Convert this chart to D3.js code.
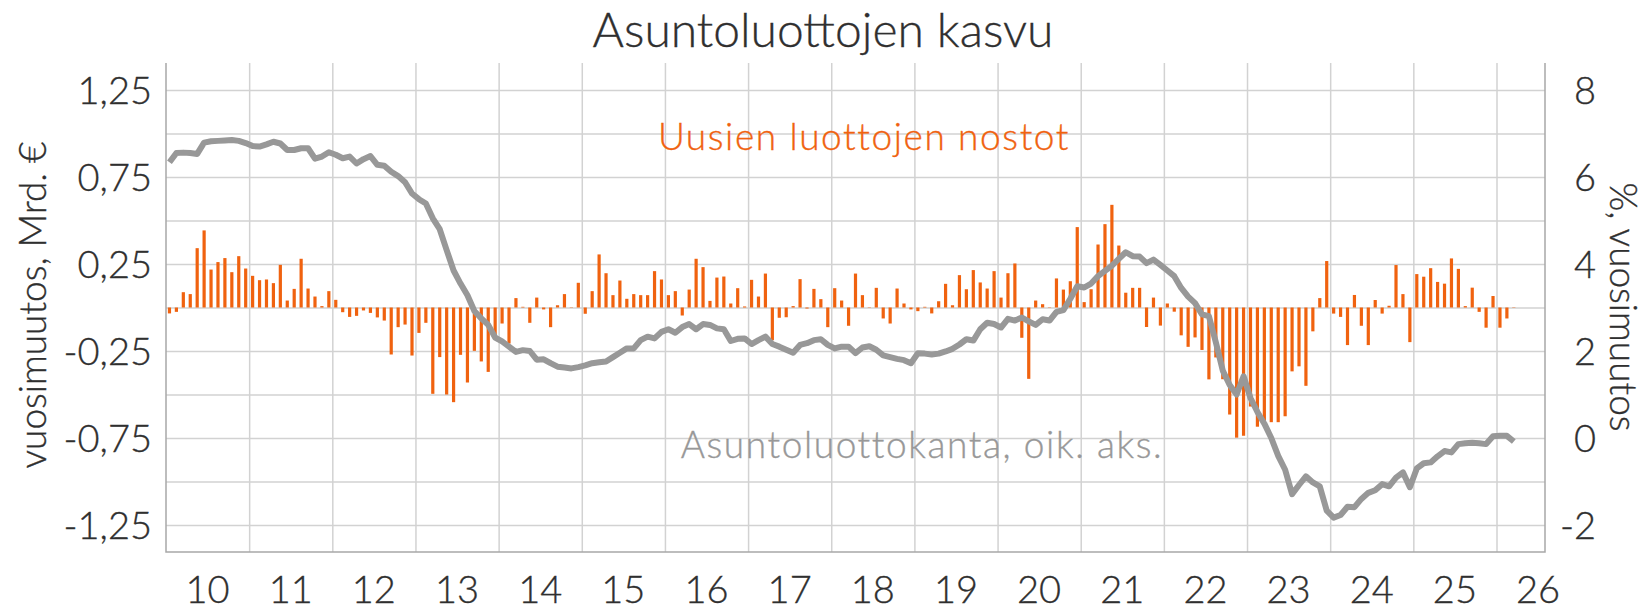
<!DOCTYPE html>
<html>
<head>
<meta charset="utf-8">
<script src="https://cdn.jsdelivr.net/npm/d3@7"></script>
<style>
  body { margin: 0; background: #fff; }
  svg text { font-family: Lato, "Open Sans", sans-serif; font-weight: 300; fill: #2f2f2f; stroke: #2f2f2f; stroke-width: 0.35px; }
</style>
</head>
<body>
<svg id="chart" width="1646" height="611"></svg>
<script>
// Kuukausittaiset arvot, tammikuu 2010 alkaen
const startYear = 2010;

// Uusien luottojen nostot, vuosimuutos (Mrd. €) – pylväät, vasen akseli
const drawdownChange = [
  -0.034, -0.025, 0.088, 0.077, 0.341, 0.443, 0.218, 0.261, 0.284, 0.203, 0.295, 0.224,
  0.182, 0.157, 0.161, 0.140, 0.245, 0.040, 0.107, 0.280, 0.109, 0.063, 0.008, 0.094,
  0.044, -0.027, -0.054, -0.048, -0.017, -0.031, -0.057, -0.075, -0.270, -0.113, -0.098, -0.276,
  -0.146, -0.088, -0.496, -0.285, -0.500, -0.544, -0.272, -0.431, -0.249, -0.310, -0.370, -0.169,
  -0.092, -0.207, 0.054, 0.004, -0.088, 0.057, -0.011, -0.113, 0.013, 0.077, 0.002, 0.142,
  -0.036, 0.094, 0.305, 0.197, 0.071, 0.155, 0.050, 0.077, 0.071, 0.071, 0.209, 0.161,
  0.071, 0.094, -0.046, 0.103, 0.280, 0.232, 0.038, 0.172, 0.178, 0.023, 0.111, 0.006,
  0.159, 0.063, 0.195, -0.188, -0.059, -0.056, 0.008, 0.163, -0.006, 0.107, 0.048, -0.113,
  0.111, 0.040, -0.105, 0.195, 0.071, 0.002, 0.113, -0.063, -0.092, 0.109, 0.023, -0.011,
  -0.021, 0.004, -0.034, 0.036, 0.136, 0.013, 0.186, 0.105, 0.215, 0.144, 0.109, 0.209,
  0.057, 0.197, 0.253, -0.174, -0.410, 0.040, 0.019, 0.002, 0.167, 0.103, 0.151, 0.462,
  0.031, 0.105, 0.362, 0.479, 0.590, 0.356, 0.085, 0.113, 0.113, -0.112, 0.057, -0.104,
  0.023, -0.024, -0.160, -0.226, -0.172, -0.244, -0.413, -0.287, -0.412, -0.615, -0.748, -0.737,
  -0.569, -0.685, -0.652, -0.659, -0.659, -0.625, -0.367, -0.338, -0.450, -0.137, 0.054, 0.267,
  -0.035, -0.054, -0.216, 0.072, -0.105, -0.216, 0.043, -0.035, 0.010, 0.244, 0.077, -0.199,
  0.192, 0.177, 0.226, 0.147, 0.137, 0.282, 0.222, 0.008, 0.114, -0.025, -0.116, 0.066,
  -0.116, -0.063, 0.002
];

// Asuntoluottokanta, vuosimuutos (%) – viiva, oikea akseli
const stockGrowth = [
  6.34, 6.55, 6.56, 6.55, 6.53, 6.79, 6.82, 6.83, 6.84, 6.85, 6.83, 6.78,
  6.71, 6.70, 6.75, 6.81, 6.77, 6.62, 6.62, 6.66, 6.66, 6.42, 6.47, 6.57,
  6.51, 6.43, 6.47, 6.31, 6.41, 6.48, 6.28, 6.26, 6.12, 6.02, 5.88, 5.62,
  5.49, 5.39, 5.05, 4.80, 4.32, 3.85, 3.55, 3.28, 2.92, 2.75, 2.60, 2.31,
  2.22, 2.10, 1.98, 2.02, 2.00, 1.80, 1.81, 1.72, 1.64, 1.62, 1.60, 1.63,
  1.67, 1.72, 1.74, 1.76, 1.86, 1.96, 2.06, 2.06, 2.25, 2.33, 2.29, 2.44,
  2.50, 2.42, 2.55, 2.62, 2.50, 2.62, 2.60, 2.52, 2.50, 2.23, 2.28, 2.29,
  2.16, 2.25, 2.33, 2.16, 2.10, 2.03, 1.96, 2.14, 2.18, 2.25, 2.27, 2.14,
  2.06, 2.10, 2.10, 1.95, 2.08, 2.11, 2.03, 1.90, 1.86, 1.82, 1.79, 1.72,
  1.95, 1.94, 1.92, 1.94, 1.99, 2.05, 2.15, 2.27, 2.24, 2.50, 2.65, 2.62,
  2.54, 2.74, 2.70, 2.77, 2.68, 2.60, 2.73, 2.70, 2.90, 2.94, 3.20, 3.49,
  3.46, 3.55, 3.72, 3.84, 3.96, 4.12, 4.27, 4.18, 4.17, 4.02, 4.10, 3.98,
  3.85, 3.72, 3.45, 3.25, 3.10, 2.84, 2.80, 2.20, 1.55, 1.22, 1.00, 1.42,
  0.92, 0.60, 0.33, 0.00, -0.41, -0.73, -1.29, -1.08, -0.88, -1.02, -1.11, -1.67,
  -1.83, -1.77, -1.58, -1.59, -1.40, -1.26, -1.20, -1.06, -1.11, -0.91, -0.79, -1.13,
  -0.70, -0.58, -0.56, -0.42, -0.30, -0.33, -0.14, -0.12, -0.11, -0.12, -0.14, 0.04,
  0.05, 0.05, -0.08
];

const leftTicks = [1.25, 0.75, 0.25, -0.25, -0.75, -1.25];
const gridTicks = [1.25, 1, 0.75, 0.5, 0.25, 0, -0.25, -0.5, -0.75, -1, -1.25];
const rightTicks = [8, 6, 4, 2, 0, -2];
const yearLabels = ["10", "11", "12", "13", "14", "15", "16", "17", "18", "19", "20", "21", "22", "23", "24", "25", "26"];

const svg = d3.select("#chart");
const plot = { left: 166, right: 1545, top: 63, bottom: 552 };

// x-akseli kuukausina alusta lukien
const x = d3.scaleLinear().domain([0, 199]).range([plot.left, plot.right]);
const yL = d3.scaleLinear().domain([-1.405, 1.405]).range([plot.bottom, plot.top]);
const yR = d3.scaleLinear().domain([-2, 8]).range([yL(-1.25), yL(1.25)]);

const fi = d3.formatLocale({ decimal: ",", thousands: " ", grouping: [3], currency: ["", " €"], minus: "-" });
const fmtLeft = fi.format(".2f");

// Vaakaviivat
svg.append("g")
  .attr("transform", `translate(${plot.left},0)`)
  .call(d3.axisLeft(yL).tickValues(gridTicks).tickSize(-(plot.right - plot.left)).tickFormat(""))
  .call((g) => g.select(".domain").remove())
  .call((g) => g.selectAll("line").attr("stroke", "#d2d2d2").attr("stroke-width", 1.5));

// Pystyviivat vuoden vaihteissa
const yearStarts = d3.range(1, yearLabels.length).map((i) => i * 12);
svg.append("g")
  .attr("transform", `translate(0,${plot.bottom})`)
  .call(d3.axisBottom(x).tickValues(yearStarts).tickSize(-(plot.bottom - plot.top)).tickFormat(""))
  .call((g) => g.select(".domain").remove())
  .call((g) => g.selectAll("line").attr("stroke", "#d2d2d2").attr("stroke-width", 1.5));

// Akselien reunaviivat
svg.append("path")
  .attr("d", `M${plot.left},${plot.top}V${plot.bottom}H${plot.right}V${plot.top}`)
  .attr("fill", "none")
  .attr("stroke", "#a8a8a8")
  .attr("stroke-width", 1.5);

// Pylväät
svg.append("g")
  .selectAll("rect")
  .data(drawdownChange)
  .join("rect")
  .attr("x", (d, i) => x(i + 0.5) - 1.6)
  .attr("width", 3.2)
  .attr("y", (d) => Math.min(yL(d), yL(0)))
  .attr("height", (d) => Math.abs(yL(d) - yL(0)))
  .attr("fill", "#f0620f");

// Viiva
const line = d3.line()
  .x((d, i) => x(i + 0.5))
  .y((d) => yR(d));

svg.append("path")
  .datum(stockGrowth)
  .attr("d", line)
  .attr("fill", "none")
  .attr("stroke", "#989898")
  .attr("stroke-width", 6)
  .attr("stroke-linejoin", "round");

// Vasemman akselin luvut
svg.append("g")
  .selectAll("text")
  .data(leftTicks)
  .join("text")
  .attr("x", 152)
  .attr("y", (d) => yL(d))
  .attr("dy", "0.36em")
  .attr("text-anchor", "end")
  .style("font-size", "38px")
  .text((d) => fmtLeft(d));

// Oikean akselin luvut
svg.append("g")
  .selectAll("text")
  .data(rightTicks)
  .join("text")
  .attr("x", 1596)
  .attr("y", (d) => yR(d))
  .attr("dy", "0.36em")
  .attr("text-anchor", "end")
  .style("font-size", "38px")
  .text((d) => fi.format("d")(d));

// Vuodet
svg.append("g")
  .selectAll("text")
  .data(yearLabels)
  .join("text")
  .attr("x", (d, i) => x(i * 12 + 6))
  .attr("y", 603)
  .attr("text-anchor", "middle")
  .style("font-size", "38px")
  .text((d) => d);

// Otsikko ja akselien nimet
svg.append("text")
  .attr("x", 823)
  .attr("y", 47)
  .attr("text-anchor", "middle")
  .style("font-size", "48px")
  .text("Asuntoluottojen kasvu");

svg.append("text")
  .attr("transform", `translate(46,305) rotate(-90)`)
  .attr("text-anchor", "middle")
  .style("font-size", "37px")
  .text("vuosimuutos, Mrd. €");

svg.append("text")
  .attr("transform", `translate(1610,307) rotate(90)`)
  .attr("text-anchor", "middle")
  .style("font-size", "37px")
  .text("%, vuosimuutos");

// Sarjojen nimet
svg.append("text")
  .attr("x", 864)
  .attr("y", 150)
  .attr("text-anchor", "middle")
  .style("font-size", "37px")
  .style("letter-spacing", "1.6px")
  .style("fill", "#f0620f")
  .style("stroke", "#f0620f")
  .text("Uusien luottojen nostot");

svg.append("text")
  .attr("x", 922)
  .attr("y", 458)
  .attr("text-anchor", "middle")
  .style("font-size", "37px")
  .style("letter-spacing", "1.6px")
  .style("fill", "#989898")
  .style("stroke", "#989898")
  .text("Asuntoluottokanta, oik. aks.");
</script>
</body>
</html>
